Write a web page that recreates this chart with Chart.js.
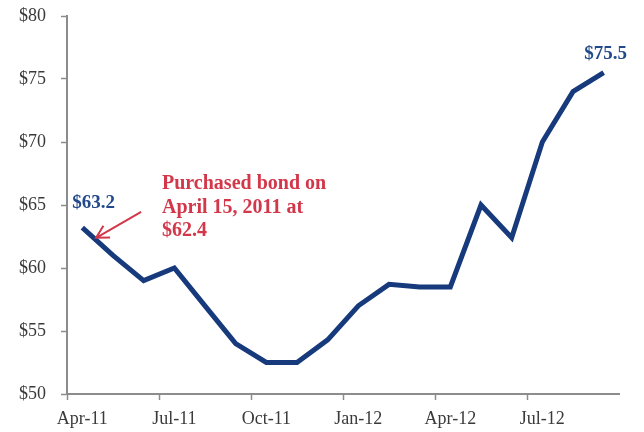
<!DOCTYPE html>
<html lang="en">
<head>
    <meta charset="UTF-8">
    <title>Bond price</title>
    <style>
        html, body { margin: 0; padding: 0; background: #fff; }
        #wrap { width: 644px; height: 432px; }
    </style>
</head>
<body>
    <div id="wrap"><canvas id="priceCanvas" width="644" height="432"></canvas></div>

    <script src="https://cdn.jsdelivr.net/npm/chart.js"></script>
    <script>
        // monthly prices, Apr-11 .. Sep-12
        var months = ['Apr-11', 'May-11', 'Jun-11', 'Jul-11', 'Aug-11', 'Sep-11',
                      'Oct-11', 'Nov-11', 'Dec-11', 'Jan-12', 'Feb-12', 'Mar-12',
                      'Apr-12', 'May-12', 'Jun-12', 'Jul-12', 'Aug-12', 'Sep-12'];
        var prices = [63.2, 61.0, 59.0, 60.0, 57.0, 54.0,
                      52.5, 52.5, 54.3, 57.0, 58.7, 58.5,
                      58.5, 65.0, 62.4, 70.0, 74.0, 75.5];
        var yTicks = [50, 55, 60, 65, 70, 75, 80];
        var purchase = { index: 0.45, price: 62.4 };
        var noteLines = ['Purchased bond on', 'April 15, 2011 at', '$62.4'];

        var serif = '"Liberation Serif", "Times New Roman", serif';
        var navy = '#173a7c';
        var red = '#d3374a';
        var axisGrey = '#8c8c8c';

        var labelsPlugin = {
            id: 'labels',
            afterDatasetsDraw: function(chart) {
                var c = chart.ctx;
                var x = chart.scales.x, y = chart.scales.y;
                c.save();

                // first and last value labels
                c.fillStyle = '#224a8a';
                c.font = 'bold 19px ' + serif;
                c.textBaseline = 'alphabetic';
                c.textAlign = 'left';
                var first = prices[0], last = prices[prices.length - 1];
                c.fillText('$' + first.toFixed(1), x.getPixelForValue(0) - 10, y.getPixelForValue(first) - 20);
                c.textAlign = 'center';
                c.fillText('$' + last.toFixed(1), x.getPixelForValue(prices.length - 1) + 2, y.getPixelForValue(last) - 14);

                // purchase note
                c.fillStyle = red;
                c.font = 'bold 20px ' + serif;
                c.textAlign = 'left';
                for (var i = 0; i < noteLines.length; i++) {
                    c.fillText(noteLines[i], 162, 189 + i * 23.5);
                }

                // arrow pointing at the purchase date
                var x0 = x.getPixelForValue(0), x1 = x.getPixelForValue(1);
                var tipX = x0 + purchase.index * (x1 - x0);
                var tipY = y.getPixelForValue(purchase.price);
                var tailX = tipX + 45, tailY = tipY - 26;
                var ang = Math.atan2(tipY - tailY, tipX - tailX);
                c.strokeStyle = red;
                c.lineWidth = 2;
                c.beginPath();
                c.moveTo(tailX, tailY);
                c.lineTo(tipX, tipY);
                c.moveTo(tipX - 14 * Math.cos(ang - 0.5), tipY - 14 * Math.sin(ang - 0.5));
                c.lineTo(tipX, tipY);
                c.lineTo(tipX - 14 * Math.cos(ang + 0.5), tipY - 14 * Math.sin(ang + 0.5));
                c.stroke();
                c.restore();
            }
        };

        var ctx = document.getElementById('priceCanvas').getContext('2d');
        var chart = new Chart(ctx, {
            type: 'line',
            data: {
                labels: months,
                datasets: [{
                    data: prices,
                    borderColor: navy,
                    borderWidth: 5,
                    pointRadius: 0,
                    tension: 0,
                    borderJoinStyle: 'miter',
                    borderCapStyle: 'butt'
                }]
            },
            options: {
                responsive: false,
                animation: false,
                layout: { padding: { top: 16, right: 25, left: 0, bottom: 0 } },
                plugins: { legend: { display: false }, tooltip: { enabled: false } },
                scales: {
                    x: {
                        type: 'category',
                        offset: true,
                        grid: {
                            offset: true,
                            drawOnChartArea: false,
                            tickLength: 6,
                            tickWidth: 1.5,
                            color: function(c) { return c.index % 3 === 0 ? axisGrey : 'transparent'; }
                        },
                        border: { color: axisGrey, width: 2 },
                        ticks: {
                            autoSkip: false,
                            maxRotation: 0,
                            padding: 8,
                            color: '#3a3a3a',
                            font: { family: serif, size: 18 },
                            callback: function(v, i) { return i % 3 === 0 ? months[i] : ''; }
                        },
                        afterFit: function(s) { s.height = 38; }
                    },
                    y: {
                        min: 50,
                        max: 80,
                        afterBuildTicks: function(s) {
                            s.ticks = yTicks.map(function(v) { return { value: v }; });
                        },
                        grid: { drawOnChartArea: false, tickLength: 6, tickWidth: 1.5, color: axisGrey },
                        border: { color: axisGrey, width: 2 },
                        ticks: {
                            padding: 15,
                            color: '#3a3a3a',
                            font: { family: serif, size: 18 },
                            callback: function(v) { return '$' + v; }
                        },
                        afterFit: function(s) {
                            s.width = 67;
                            // only leave room for half a label above/below
                            s.paddingTop = 9;
                            s.paddingBottom = 9;
                        }
                    }
                }
            },
            plugins: [labelsPlugin]
        });
    </script>
</body>
</html>
